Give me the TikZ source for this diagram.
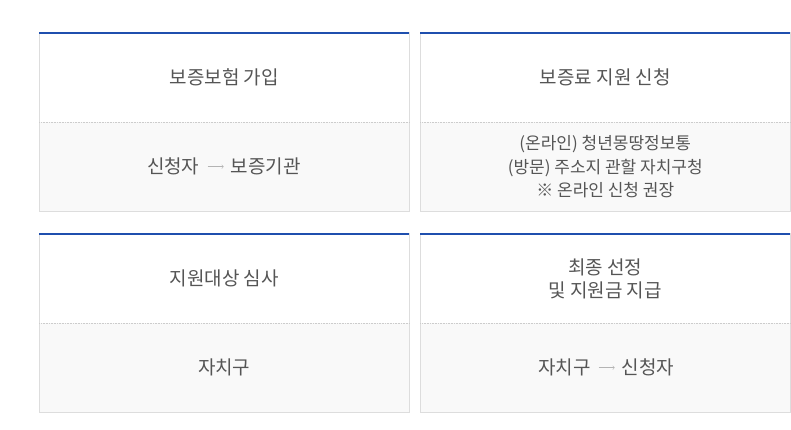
\documentclass[tikz,border=0pt]{standalone}
\usepackage{fontspec}
\setmainfont{Noto Sans CJK KR}
\usepackage{xcolor}
\usepackage{tikz}
\usetikzlibrary{positioning}
\usetikzlibrary{calc}

\definecolor{boxline}{HTML}{DDDDDD}
\definecolor{topblue}{HTML}{1F4FAE}
\definecolor{bodyfill}{HTML}{F9F9F9}
\definecolor{textgray}{HTML}{555555}
\definecolor{dotgray}{HTML}{CCCCCC}
\definecolor{arrowgray}{HTML}{B4B4B4}

\tikzset{
    headcell/.style={fill=white, minimum width=369.5pt, minimum height=89pt, inner sep=0pt,
        text=textgray, align=center, font=\fontsize{19}{23}\selectfont},
    bodycell/.style={fill=bodyfill, minimum width=369.5pt, minimum height=88.5pt, inner sep=0pt},
    bodytext/.style={inner sep=0pt, text=textgray, align=center, font=\fontsize{19}{23}\selectfont},
    smalltext/.style={bodytext, font=\fontsize{17}{23.5}\selectfont},
    flow/.style={draw=arrowgray, line width=0.6pt, ->, shorten <=8pt, shorten >=7pt},
}

\begin{document}
\begin{tikzpicture}[x=1pt, y=-1pt]
    \useasboundingbox[fill=white] (0,0) rectangle (791,429);

    \foreach \n/\x/\y/\txt in {1/224.25/77.5/보증보험 가입,
                              2/605.25/77.5/보증료 지원 신청,
                              3/224.25/278.5/지원대상 심사,
                              4/605.25/278.5/{최종 선정\\및 지원금 지급}}
    {
        \node[headcell] (h\n) at (\x,\y) {\txt};
        \node[bodycell, below=0pt of h\n] (b\n) {};
        \draw[boxline, line width=0.8pt] (h\n.north west) rectangle (b\n.south east);
        \draw[dotgray, densely dotted, line width=0.6pt] (h\n.south west) -- (h\n.south east);
        \draw[topblue, line width=2pt] (h\n.north west) -- (h\n.north east);
    }

    % body texts
    \node[bodytext] (s1) at ([xshift=-51pt]b1.center) {신청자};
    \node[bodytext, right=31pt of s1] (g1) {보증기관};
    \draw[flow] (s1) -- (g1);

    \node[smalltext] (t2) at (b2.center) {(온라인) 청년몽땅정보통\\(방문) 주소지 관할 자치구청\\※ 온라인 신청 권장};

    \node[bodytext] (t3) at (b3.center) {자치구};

    \node[bodytext] (s4) at ([xshift=-41pt]b4.center) {자치구};
    \node[bodytext, right=31pt of s4] (g4) {신청자};
    \draw[flow] (s4) -- (g4);
\end{tikzpicture}
\end{document}
